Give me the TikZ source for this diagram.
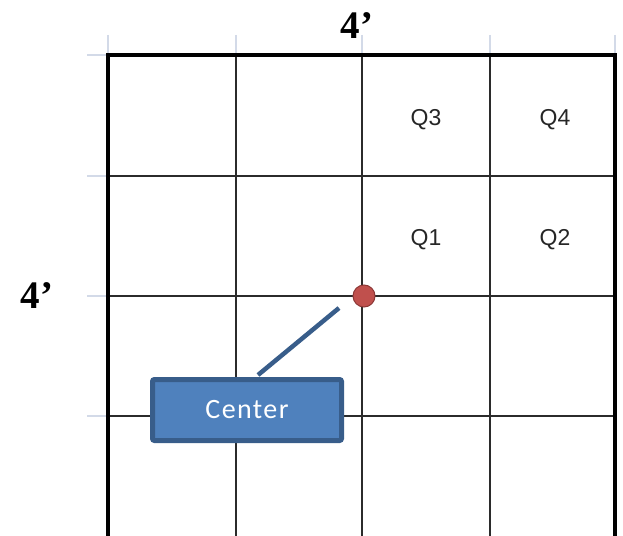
\documentclass[tikz,border=0pt]{standalone}
\usepackage{fontspec}
\setmainfont{Liberation Sans}
\newfontfamily\labelfont{Liberation Serif}
\newfontfamily\boxfont[LetterSpace=5]{Carlito}
\definecolor{Cgridline}{HTML}{2B2B2B}
\definecolor{Ctick}{HTML}{D3DAE8}
\definecolor{Cboxfill}{HTML}{4F81BD}
\definecolor{Cboxedge}{HTML}{385D8A}
\definecolor{Cdotfill}{HTML}{C0504D}
\definecolor{Cdotedge}{HTML}{8C3836}

\begin{document}
\begin{tikzpicture}[x=1pt,y=-1pt,
		quadlabel/.style={font=\fontsize{23}{23}\selectfont,text=black!85},
		sidelabel/.style={font=\labelfont\bfseries\fontsize{39}{39}\selectfont},
		calloutbox/.style={draw=Cboxedge,fill=Cboxfill,line width=5pt,rounded corners=2pt,
			minimum width=189pt,minimum height=61pt,text=white,
			font=\boxfont\fontsize{28}{28}\selectfont}]
	\useasboundingbox (0,0) rectangle (623,535);
	\clip (0,0) rectangle (623,535);
	% ticks outside the grid
	\foreach \x in {108,236,362,490,615}
		\draw[Ctick,line width=1.5pt] (\x,35)--(\x,55);
	\foreach \y in {55,176,296,416}
		\draw[Ctick,line width=1.5pt] (87,\y)--(108,\y);
	% inner grid
	\foreach \x in {236,362,490}
		\draw[Cgridline,line width=1.6pt] (\x,55)--(\x,540);
	\foreach \y in {176,296,416}
		\draw[Cgridline,line width=1.6pt] (108,\y)--(615,\y);
	% frame
	\draw[black,line width=3.5pt] (108,540)--(108,55)--(615,55)--(615,540);
	% labels
	\node[sidelabel] (toplen) at (357,26) {4’};
	\node[sidelabel] (leftlen) at (37,296) {4’};
	\node[quadlabel] (q3) at (426,120) {Q3};
	\node[quadlabel] (q4) at (555,120) {Q4};
	\node[quadlabel] (q1) at (426,240) {Q1};
	\node[quadlabel] (q2) at (555,240) {Q2};
	% callout
	\node[calloutbox] (centerbox) at (247,410) {Center};
	\coordinate (tip) at (339,308);
	\coordinate (foot) at (258,375);
	\draw[Cboxedge,line width=4.5pt] (tip)--(foot);
	\node[circle,fill=Cdotfill,draw=Cdotedge,line width=1pt,minimum size=22pt,inner sep=0pt] (centerdot) at (364,296) {};
\end{tikzpicture}
\end{document}
